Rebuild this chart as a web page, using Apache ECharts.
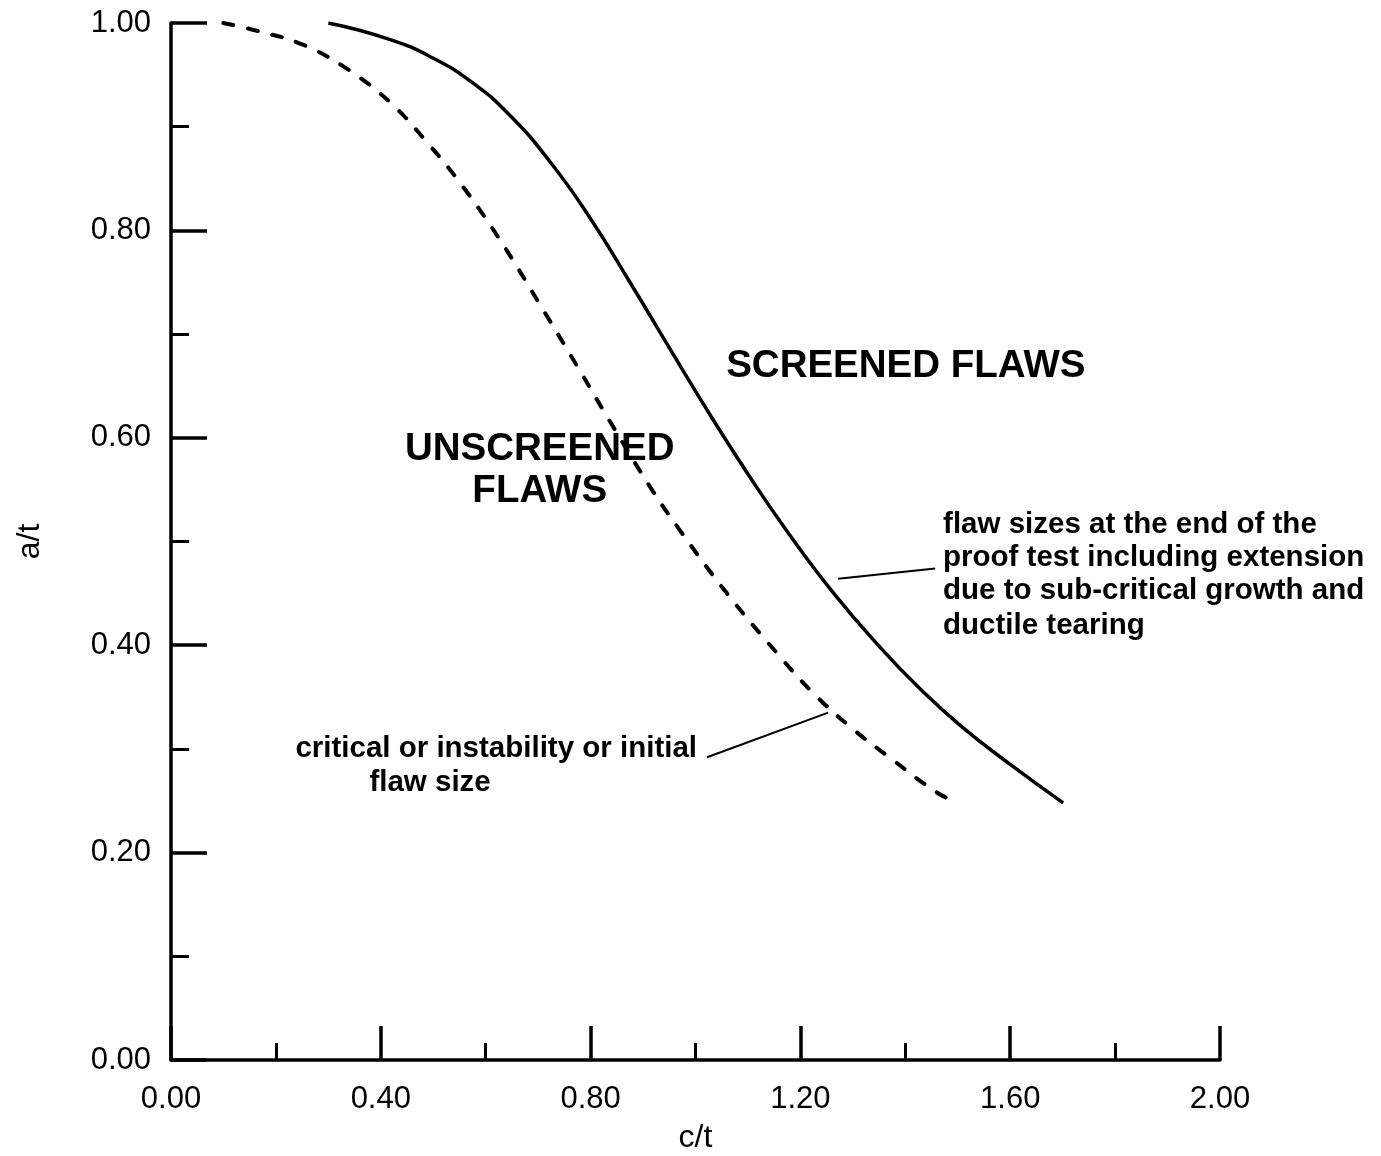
<!DOCTYPE html>
<html>
<head>
<meta charset="utf-8">
<script src="https://cdn.jsdelivr.net/npm/echarts@6/dist/echarts.min.js"></script>
<style>
html,body{margin:0;padding:0;background:#fff;}
#chart{width:1381px;height:1156px;}
</style>
</head>
<body>
<div id="chart"></div>
<script>
// Screened flaws (solid curve): c/t and a/t
const screenedC = [0.30, 0.418, 0.500, 0.576, 0.646, 0.723, 0.799, 0.875, 0.951, 1.028, 1.104, 1.180, 1.262, 1.352, 1.428, 1.504, 1.600, 1.701];
const screenedA = [1.00, 0.984, 0.966, 0.942, 0.911, 0.866, 0.812, 0.750, 0.686, 0.622, 0.562, 0.506, 0.451, 0.398, 0.358, 0.323, 0.285, 0.248];
// Unscreened flaws (dashed curve): c/t and a/t
const unscreenedC = [0.10, 0.160, 0.252, 0.341, 0.421, 0.488, 0.551, 0.627, 0.704, 0.784, 0.833, 0.913, 0.970, 1.060, 1.161, 1.224, 1.298, 1.377, 1.460, 1.50];
const unscreenedA = [1.00, 0.993, 0.979, 0.954, 0.922, 0.885, 0.846, 0.791, 0.728, 0.661, 0.619, 0.553, 0.511, 0.450, 0.389, 0.354, 0.320, 0.289, 0.258, 0.248];
const xTicks = [0.00, 0.40, 0.80, 1.20, 1.60, 2.00];
const yTicks = [0.00, 0.20, 0.40, 0.60, 0.80, 1.00];

const zip = (xs, ys) => xs.map((x, i) => [x, ys[i]]);

const chart = echarts.init(document.getElementById('chart'), null, {renderer: 'canvas'});
const FONT = '"Liberation Sans", Arial, Helvetica, sans-serif';
const axisCommon = {
  type: 'value',
  axisLine: {show: true, lineStyle: {color: '#000', width: 3.5}},
  axisTick: {show: true, inside: true, lineStyle: {color: '#000', width: 3.5}},
  minorTick: {show: true, splitNumber: 2, lineStyle: {color: '#000', width: 3}},
  splitLine: {show: false},
  minorSplitLine: {show: false},
  axisLabel: {color: '#000', fontSize: 31, fontFamily: FONT, formatter: v => v.toFixed(2)},
  nameTextStyle: {color: '#000', fontSize: 32, fontFamily: FONT}
};

chart.setOption({
  animation: false,
  backgroundColor: '#fff',
  grid: {left: 171, right: 161, top: 23, bottom: 96, containLabel: false, outerBoundsMode: 'none'},
  xAxis: Object.assign({}, axisCommon, {
    min: xTicks[0], max: xTicks[xTicks.length - 1], interval: 0.4,
    name: 'c/t', nameLocation: 'middle', nameGap: 62,
    axisTick: Object.assign({}, axisCommon.axisTick, {length: 34}),
    minorTick: Object.assign({}, axisCommon.minorTick, {length: 17}),
    axisLabel: Object.assign({}, axisCommon.axisLabel, {margin: 24})
  }),
  yAxis: Object.assign({}, axisCommon, {
    min: yTicks[0], max: yTicks[yTicks.length - 1], interval: 0.2,
    name: 'a/t', nameLocation: 'middle', nameGap: 125,
    axisTick: Object.assign({}, axisCommon.axisTick, {length: 36}),
    minorTick: Object.assign({}, axisCommon.minorTick, {length: 18}),
    axisLabel: Object.assign({}, axisCommon.axisLabel, {margin: 20})
  }),
  series: [
    {
      name: 'screened', type: 'line', data: zip(screenedC, screenedA),
      showSymbol: false, smooth: 0.5, z: 3,
      lineStyle: {color: '#000', width: 3.5}
    },
    {
      name: 'unscreened', type: 'line', data: zip(unscreenedC, unscreenedA),
      showSymbol: false, smooth: 0.4, z: 3,
      lineStyle: {color: '#000', width: 4, type: [10, 15], cap: 'round'}
    }
  ]
});

// Annotations, anchored in data coordinates
const px = (c, a) => chart.convertToPixel({gridIndex: 0}, [c, a]);
const textEl = (c, a, text, size, align) => {
  const p = px(c, a);
  return {
    type: 'text', x: p[0], y: p[1], z: 10,
    style: {text: text, fill: '#000', font: 'bold ' + size + 'px ' + FONT, textAlign: align, textVerticalAlign: 'middle'}
  };
};
const lineEl = (c1, a1, c2, a2) => {
  const p1 = px(c1, a1), p2 = px(c2, a2);
  return {type: 'line', z: 10, shape: {x1: p1[0], y1: p1[1], x2: p2[0], y2: p2[1]}, style: {stroke: '#000', lineWidth: 2}};
};
chart.setOption({
  graphic: [
    textEl(1.401, 0.669, 'SCREENED FLAWS', 38.5, 'center'),
    textEl(0.703, 0.589, 'UNSCREENED', 38.5, 'center'),
    textEl(0.703, 0.548, 'FLAWS', 38.5, 'center'),
    textEl(0.620, 0.300, 'critical or instability or initial', 29.5, 'center'),
    textEl(0.494, 0.267, 'flaw size', 29.5, 'center'),
    textEl(1.472, 0.516, 'flaw sizes at the end of the', 29.5, 'left'),
    textEl(1.472, 0.484, 'proof test including extension', 29.5, 'left'),
    textEl(1.472, 0.452, 'due to sub-critical growth and', 29.5, 'left'),
    textEl(1.472, 0.419, 'ductile tearing', 29.5, 'left'),
    lineEl(1.022, 0.292, 1.253, 0.335),
    lineEl(1.272, 0.464, 1.457, 0.474)
  ]
});
</script>
</body>
</html>
